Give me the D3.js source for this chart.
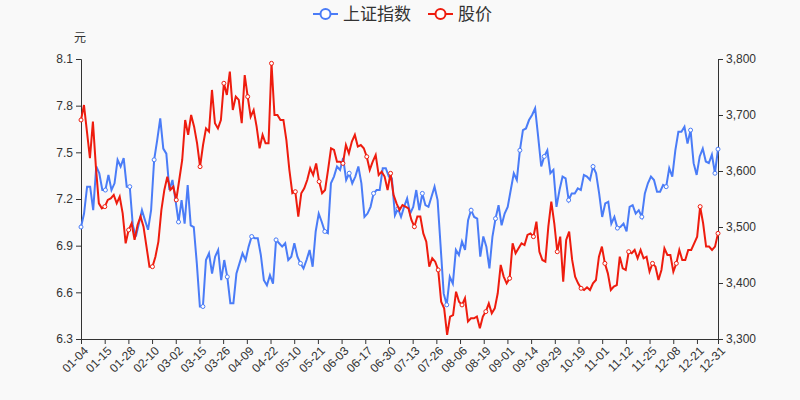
<!DOCTYPE html>
<html><head><meta charset="utf-8">
<script src="https://cdn.jsdelivr.net/npm/d3@7/dist/d3.min.js"></script>
<style>body{margin:0;background:#f9f9f9}svg{font-family:"Noto Sans CJK SC","Noto Sans",sans-serif}</style>
</head><body><svg id="c" width="800" height="400"></svg>
<script>
const xLabels=["01-04","01-15","01-28","02-10","03-02","03-15","03-26","04-09","04-22","05-10","05-21","06-03","06-17","06-30","07-13","07-26","08-06","08-19","09-01","09-14","09-29","10-19","11-01","11-12","11-25","12-08","12-21","12-31"];
const labelDay=[0,9,18,27,36,45,54,63,72,81,90,99,108,117,126,135,144,153,162,171,180,189,198,207,216,225,234,242];
const totalDays=242;
const leftTicks=[6.3,6.6,6.9,7.2,7.5,7.8,8.1];
const rightTicks=[3300,3400,3500,3600,3700,3800];
const indexSeries=[3500,3524,3572,3572,3530,3608,3596,3566,3566,3593,3566,3578,3620,3608,3623,3572,3572,3503,3483,3506,3530,3512,3495,3530,3620,3655,3694,3640,3631,3566,3584,3548,3509,3548,3506,3575,3503,3500,3435,3358,3358,3441,3453,3417,3447,3459,3405,3441,3411,3364,3364,3417,3435,3453,3441,3465,3483,3480,3480,3450,3405,3396,3414,3399,3477,3471,3465,3471,3441,3447,3471,3447,3435,3426,3441,3459,3429,3492,3524,3509,3492,3489,3578,3590,3608,3602,3623,3584,3596,3578,3590,3608,3578,3518,3524,3536,3560,3566,3566,3605,3605,3590,3587,3521,3533,
3518,3536,3551,3524,3536,3566,3530,3560,3539,3536,3554,3572,3548,3465,3381,3361,3411,3399,3459,3450,3474,3459,3512,3530,3518,3515,3447,3483,3465,3426,3483,3515,3539,3503,3524,3536,3566,3596,3584,3637,3673,3676,3691,3700,3712,3661,3608,3626,3637,3596,3602,3536,3566,3590,3587,3548,3560,3560,3569,3566,3593,3590,3584,3608,3596,3560,3518,3542,3545,3506,3518,3498,3500,3506,3492,3536,3539,3524,3530,3518,3560,3578,3590,3584,3563,3563,3575,3572,3605,3590,3637,3670,3670,3679,3649,3673,3614,3593,3626,3640,3617,3614,3629,3596,3639];
const priceSeries=[7.708,7.804,7.633,7.462,7.697,7.408,7.172,7.140,7.151,7.194,7.204,7.226,7.172,7.215,7.108,6.915,7.001,7.044,6.937,7.033,7.087,7.022,6.894,6.765,6.765,6.829,6.926,7.129,7.258,7.344,7.258,7.279,7.194,7.322,7.451,7.708,7.612,7.740,7.665,7.558,7.408,7.547,7.654,7.633,7.901,7.687,7.654,7.708,7.944,7.869,8.019,7.772,7.858,7.837,7.687,7.997,7.858,7.729,7.772,7.665,7.526,7.612,7.558,7.558,8.072,7.740,7.740,7.708,7.708,7.579,7.387,7.237,7.247,7.087,7.237,7.269,7.322,7.397,7.354,7.429,7.312,7.237,7.258,7.387,7.526,7.515,7.440,7.440,7.429,7.547,7.494,7.569,7.612,7.537,7.547,7.526,7.472,7.387,7.440,7.483,7.354,7.376,7.344,7.258,7.365,7.226,7.172,7.129,7.161,
7.151,7.140,7.065,7.022,7.087,7.087,6.979,6.926,6.765,6.819,6.797,6.744,6.540,6.497,6.326,6.444,6.454,6.604,6.540,6.519,6.562,6.412,6.433,6.433,6.444,6.369,6.444,6.476,6.529,6.465,6.497,6.594,6.776,6.701,6.658,6.690,6.915,6.851,6.883,6.915,6.904,6.969,6.979,6.958,7.054,6.861,6.808,6.797,7.022,7.183,7.044,6.861,6.958,6.669,6.937,6.990,6.808,6.701,6.658,6.626,6.615,6.632,6.615,6.658,6.679,6.829,6.894,6.786,6.722,6.615,6.637,6.647,6.829,6.754,6.744,6.861,6.851,6.872,6.819,6.872,6.819,6.829,6.733,6.786,6.765,6.679,6.744,6.883,6.840,6.840,6.733,6.786,6.872,6.808,6.808,6.872,6.872,6.915,6.958,7.151,7.044,6.894,6.894,6.872,6.894,6.979];

const svg=d3.select("#c");
const L=81,R=718,T=59,B=339;
const x=d3.scaleLinear().domain([0,totalDays]).range([L,R]);
const yL=d3.scaleLinear().domain([6.3,8.1]).range([B,T]);
const yR=d3.scaleLinear().domain([3300,3800]).range([B,T]);
const ax="#333",tc="#333";
// x axis
const gx=svg.append("g").attr("transform",`translate(0,${B})`).call(d3.axisBottom(x).tickValues(labelDay).tickFormat((d,i)=>xLabels[i]).tickSize(5));
gx.selectAll("text").attr("transform","rotate(-45)").attr("text-anchor","end").attr("dx","-0.3em").attr("dy","0.5em").style("font-size","12px").attr("fill",tc);
const gl=svg.append("g").attr("transform",`translate(${L},0)`).call(d3.axisLeft(yL).tickValues(leftTicks).tickFormat(d3.format(".1f")).tickSize(5));
gl.selectAll("text").style("font-size","12px").attr("fill",tc);
const gr=svg.append("g").attr("transform",`translate(${R},0)`).call(d3.axisRight(yR).tickValues(rightTicks).tickFormat(d3.format(",")).tickSize(5));
gr.selectAll("text").style("font-size","12px").attr("fill",tc);
svg.selectAll(".domain,.tick line").attr("stroke",ax);
svg.append("text").attr("x",80).attr("y",42).attr("text-anchor","middle").style("font-size","12px").attr("fill","#333").text("元");

function draw(data,y,color){
  const n=data.length-1;
  const xi=i=>x(i/n*totalDays);
  svg.append("path").datum(data).attr("fill","none").attr("stroke",color).attr("stroke-width",2)
    .attr("d",d3.line().x((d,i)=>xi(i)).y(d=>y(d)));
  const step=Math.round(n/26);
  const pts=data.map((d,i)=>[i,d]).filter(p=>p[0]%step===0||p[0]===n);
  svg.selectAll(null).data(pts).enter().append("circle").attr("cx",p=>xi(p[0])).attr("cy",p=>y(p[1])).attr("r",2)
    .attr("fill","#fff").attr("stroke",color).attr("stroke-width",1);
}
draw(indexSeries,yR,"#4a7cf7");
draw(priceSeries,yL,"#ee1c0e");

// legend
const leg=[["上证指数","#4a7cf7",313],["股价","#ee1c0e",428]];
leg.forEach(([t,c,lx])=>{
  const g=svg.append("g");
  g.append("line").attr("x1",lx).attr("x2",lx+25).attr("y1",14).attr("y2",14).attr("stroke",c).attr("stroke-width",2);
  g.append("circle").attr("cx",lx+12.5).attr("cy",14).attr("r",5).attr("fill","#fff").attr("stroke",c).attr("stroke-width",2);
  g.append("text").attr("x",lx+30).attr("y",20).style("font-size","17px").attr("fill","#333").text(t);
});
</script></body></html>
